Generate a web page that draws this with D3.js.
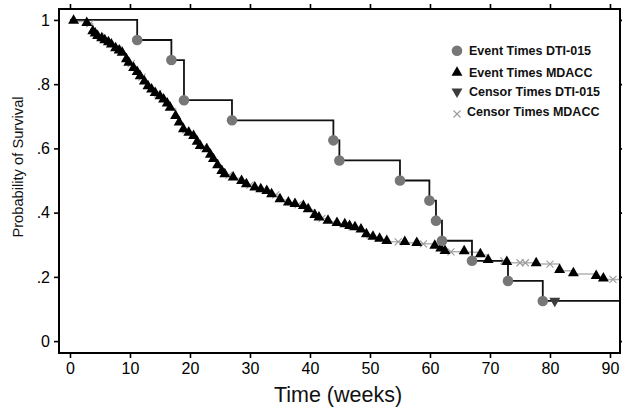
<!DOCTYPE html>
<html>
<head>
<meta charset="utf-8">
<script src="https://cdn.jsdelivr.net/npm/d3@7"></script>
<style>
	body { margin: 0; background: #fff; }
	text { font-family: "Liberation Sans", Arial, sans-serif; }
</style>
</head>
<body>
<div id="chart"></div>
<script>
// DTI-015 Kaplan-Meier (16 patients)
const dtiEventTimes = [11.2, 16.9, 19, 27, 43.9, 44.9, 55, 59.9, 61, 62, 67, 73, 78.8];
const dtiEventSurv = [0.9375, 0.875, 0.75, 0.6875, 0.625, 0.5625, 0.5, 0.4375, 0.375, 0.3125, 0.25, 0.1875, 0.125];
const dtiCensorTimes = [80.8];

// MDACC Kaplan-Meier
const mdEventTimes = [0.6, 2.8, 3.8, 4.2, 4.6, 5.3, 5.8, 6.4, 6.9, 7.6, 8.2, 8.7, 9.4, 9.8, 10.6,
	11.2, 11.7, 12.4, 13.0, 13.6, 14.2, 15.0, 15.6, 16.2, 16.7, 17.6, 18.2, 18.9, 19.8, 20.6,
	21.2, 21.7, 22.8, 23.4, 23.9, 24.6, 25.3, 25.8, 27.2, 28.6, 29.4, 30.8, 31.8, 32.8, 33.6,
	35.0, 36.4, 37.5, 38.9, 39.7, 40.8, 41.5, 43.0, 44.5, 45.8, 46.6, 47.5, 48.5, 49.4, 50.5,
	51.6, 52.8, 55.8, 57.8, 60.8, 61.8, 62.5, 65.7, 68.4, 69.7, 72.8, 77.7, 81.6, 83.9, 87.7, 88.9];
const mdEventSurv = [0.995, 0.988, 0.962, 0.955, 0.947, 0.940, 0.934, 0.928, 0.921, 0.909, 0.902, 0.895, 0.875, 0.864, 0.848,
	0.835, 0.822, 0.806, 0.791, 0.781, 0.770, 0.760, 0.750, 0.737, 0.724, 0.698, 0.678, 0.657, 0.646, 0.636,
	0.618, 0.605, 0.595, 0.578, 0.564, 0.545, 0.527, 0.517, 0.507, 0.496, 0.486, 0.476, 0.470, 0.465, 0.455,
	0.439, 0.429, 0.424, 0.418, 0.408, 0.390, 0.382, 0.372, 0.365, 0.361, 0.356, 0.352, 0.345, 0.330, 0.322,
	0.316, 0.309, 0.306, 0.303, 0.294, 0.286, 0.278, 0.277, 0.268, 0.250, 0.244, 0.240, 0.219, 0.209, 0.200, 0.192];
const mdCensorTimes = [3.3, 5.0, 8.0, 10.2, 12.0, 14.6, 19.3, 22.3, 26.5, 30.0, 34.3, 38.0, 42.0, 47.0,
	50.0, 54.7, 58.9, 63.5, 72.3, 75.0, 75.9, 80.0, 90.5];

const xTicks = [0, 10, 20, 30, 40, 50, 60, 70, 80, 90];
const yTicks = [0, 0.2, 0.4, 0.6, 0.8, 1];
const endTime = 92;

const legendItems = [
	{ label: "Event Times DTI-015", kind: "circle" },
	{ label: "Event Times MDACC", kind: "up" },
	{ label: "Censor Times DTI-015", kind: "down" },
	{ label: "Censor Times MDACC", kind: "cross" }
];

const width = 622, height = 410;
const box = { left: 59, right: 620, top: 9, bottom: 353 };

const svg = d3.select("#chart").append("svg")
	.attr("width", width)
	.attr("height", height);

const x = d3.scaleLinear().domain([-1.83, 91.67]).range([box.left, box.right]);
const y = d3.scaleLinear().domain([-0.037, 1.034]).range([box.bottom, box.top]);

// step series: start at 1, then each event value, out to the end
function steps(times, surv) {
	const pts = [[0, 1]];
	times.forEach((t, i) => pts.push([t, surv[i]]));
	pts.push([endTime, surv[surv.length - 1]]);
	return pts;
}
function survAt(times, surv, t) {
	let s = 1;
	times.forEach((tt, i) => { if (tt <= t) s = surv[i]; });
	return s;
}

svg.append("clipPath").attr("id", "plotclip")
	.append("rect")
	.attr("x", box.left).attr("y", box.top)
	.attr("width", box.right - box.left).attr("height", box.bottom - box.top);

const plot = svg.append("g").attr("clip-path", "url(#plotclip)");

const line = d3.line()
	.x(d => x(d[0]))
	.y(d => y(d[1]))
	.curve(d3.curveStepAfter);

plot.append("path")
	.datum(steps(mdEventTimes, mdEventSurv))
	.attr("d", line)
	.attr("fill", "none")
	.attr("stroke", "#b4b4b4")
	.attr("stroke-width", 1.5);

plot.append("path")
	.datum(steps(dtiEventTimes, dtiEventSurv))
	.attr("d", line)
	.attr("fill", "none")
	.attr("stroke", "#111")
	.attr("stroke-width", 1.8);

const upTri = d3.symbol().type(d3.symbolTriangle).size(52);
const crossPath = "M-3.5,-3.5L3.5,3.5M-3.5,3.5L3.5,-3.5";

function marker(g, kind) {
	if (kind === "circle") {
		g.append("circle").attr("r", 5.3).attr("fill", "#777");
	} else if (kind === "up") {
		g.append("path").attr("d", upTri()).attr("fill", "#000");
	} else if (kind === "down") {
		g.append("path").attr("d", upTri()).attr("fill", "#3c3c3c").attr("transform", "rotate(180)");
	} else {
		g.append("path").attr("d", crossPath).attr("stroke", "#9a9a9a").attr("stroke-width", 1.1).attr("fill", "none");
	}
}

mdCensorTimes.forEach(t => {
	const g = plot.append("g")
		.attr("transform", `translate(${x(t)},${y(survAt(mdEventTimes, mdEventSurv, t))})`);
	marker(g, "cross");
});

mdEventTimes.forEach((t, i) => {
	const g = plot.append("g")
		.attr("transform", `translate(${x(t)},${y(mdEventSurv[i]) - 1})`);
	marker(g, "up");
});

dtiEventTimes.forEach((t, i) => {
	const g = plot.append("g")
		.attr("transform", `translate(${x(t)},${y(dtiEventSurv[i])})`);
	marker(g, "circle");
});

dtiCensorTimes.forEach(t => {
	const g = plot.append("g")
		.attr("transform", `translate(${x(t)},${y(survAt(dtiEventTimes, dtiEventSurv, t))})`);
	marker(g, "down");
});

// axes
const fmtY = d => d === 0 ? "0" : d === 1 ? "1" : d3.format(".1f")(d).replace(/^0/, "");

svg.append("g")
	.attr("transform", `translate(0,${box.bottom})`)
	.call(d3.axisBottom(x).tickValues(xTicks).tickSize(5).tickPadding(5).tickSizeOuter(0));
svg.append("g")
	.attr("transform", `translate(0,${box.top})`)
	.call(d3.axisTop(x).tickValues(xTicks).tickSize(5).tickFormat("").tickSizeOuter(0));
svg.append("g")
	.attr("transform", `translate(${box.left},0)`)
	.call(d3.axisLeft(y).tickValues(yTicks).tickSize(5).tickPadding(4).tickFormat(fmtY).tickSizeOuter(0));
svg.append("g")
	.attr("transform", `translate(${box.right},0)`)
	.call(d3.axisRight(y).tickValues(yTicks).tickSize(5).tickFormat("").tickSizeOuter(0));

svg.selectAll(".domain").remove();
svg.selectAll(".tick line").attr("stroke", "#000").attr("stroke-width", 1.6);
svg.selectAll(".tick text")
	.attr("fill", "#000")
	.style("font-size", "16px")
	.style("font-family", "'Liberation Sans', Arial, sans-serif");

svg.append("rect")
	.attr("x", box.left).attr("y", box.top)
	.attr("width", box.right - box.left).attr("height", box.bottom - box.top)
	.attr("fill", "none")
	.attr("stroke", "#000")
	.attr("stroke-width", 2);

svg.append("text")
	.attr("x", 338)
	.attr("y", 402)
	.attr("text-anchor", "middle")
	.attr("font-size", "21.5px")
	.attr("fill", "#111")
	.text("Time (weeks)");

svg.append("text")
	.attr("transform", "translate(23,167) rotate(-90)")
	.attr("text-anchor", "middle")
	.attr("font-size", "14.7px")
	.attr("fill", "#111")
	.text("Probability of Survival");

// legend
const legendRows = [50.7, 72.7, 91.7, 111];
const legend = svg.append("g");
legendItems.forEach((item, i) => {
	const row = legend.append("g")
		.attr("transform", `translate(457,${legendRows[i]})`);
	marker(row.append("g").attr("transform", item.kind === "cross" ? "translate(0,3)" : null), item.kind);
	row.append("text")
		.attr("x", i === 3 ? 10 : 12)
		.attr("y", 4.5)
		.attr("font-size", "12.5px")
		.attr("font-weight", "bold")
		.attr("fill", "#111")
		.text(item.label);
});
</script>
</body>
</html>
